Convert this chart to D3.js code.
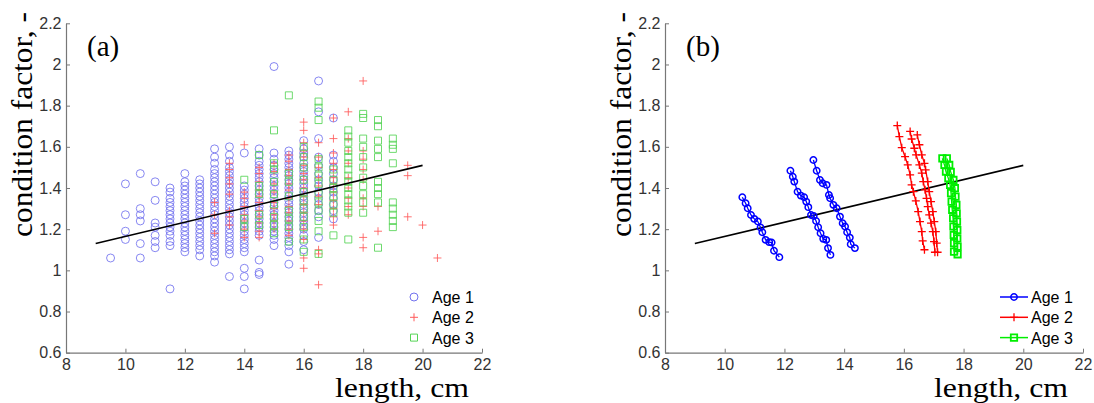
<!DOCTYPE html>
<html><head><meta charset="utf-8">
<script src="https://cdn.jsdelivr.net/npm/d3@7"></script>
<style>body{margin:0;background:#fff}svg{display:block}</style>
</head><body>
<svg id="c" width="1094" height="403"></svg>
<script>
// ---------- data ----------
const xTicks = [8,10,12,14,16,18,20,22];
const yTicks = [0.6,0.8,1,1.2,1.4,1.6,1.8,2,2.2];
const yTickLabels = ["0.6","0.8","1","1.2","1.4","1.6","1.8","2","2.2"];
const seriesNames = ["Age 1","Age 2","Age 3"];
const fitX = [9, 20];
const fitY = [1.13, 1.51];

// panel (a): [length, condition factor values]
const age1Columns = [
  [9.5,[1.06]],
  [10,[1.42,1.27,1.19,1.15]],
  [10.5,[1.47,1.30,1.27,1.24,1.13,1.06]],
  [11,[1.43,1.34,1.23,1.21,1.17,1.14,1.11]],
  [11.5,[1.40,1.38,1.35,1.33,1.31,1.29,1.27,1.25,1.23,1.21,1.19,1.17,1.14,1.12,0.91]],
  [12,[1.47,1.43,1.41,1.39,1.37,1.35,1.33,1.31,1.29,1.27,1.25,1.23,1.21,1.19,1.17,1.15,1.13,1.11,1.09]],
  [12.5,[1.44,1.42,1.40,1.38,1.36,1.34,1.32,1.30,1.28,1.26,1.24,1.22,1.20,1.18,1.16,1.14,1.12,1.10,1.07]],
  [13,[1.59,1.55,1.52,1.49,1.47,1.45,1.43,1.41,1.39,1.37,1.35,1.33,1.31,1.29,1.27,1.25,1.23,1.21,1.19,1.17,1.15,1.13,1.11,1.09,1.07,1.04]],
  [13.5,[1.60,1.56,1.53,1.50,1.48,1.46,1.44,1.42,1.40,1.38,1.36,1.34,1.32,1.30,1.28,1.26,1.24,1.22,1.20,1.18,1.16,1.14,1.12,1.10,1.08,0.97]],
  [14,[1.57,1.41,1.39,1.37,1.35,1.33,1.31,1.29,1.27,1.25,1.23,1.21,1.19,1.17,1.15,1.13,1.11,1.09,1.01,0.97,0.91]],
  [14.5,[1.59,1.56,1.53,1.51,1.49,1.47,1.45,1.43,1.41,1.39,1.37,1.35,1.33,1.31,1.29,1.27,1.25,1.23,1.21,1.19,1.17,1.05,0.99,0.98]],
  [15,[1.99,1.57,1.54,1.51,1.49,1.47,1.45,1.43,1.41,1.39,1.37,1.35,1.33,1.31,1.29,1.27,1.25,1.23,1.21,1.19,1.17,1.15,1.12]],
  [15.5,[1.58,1.56,1.54,1.52,1.50,1.48,1.46,1.44,1.42,1.40,1.38,1.36,1.34,1.32,1.30,1.28,1.26,1.24,1.22,1.20,1.18,1.16,1.14,1.12,1.09,1.03]],
  [16,[1.63,1.59,1.57,1.55,1.52,1.50,1.48,1.46,1.44,1.42,1.40,1.38,1.36,1.34,1.32,1.30,1.28,1.26,1.24,1.22,1.20,1.17,1.14,1.10]],
  [16.5,[1.92,1.77,1.64,1.55,1.51,1.47,1.44,1.41,1.38,1.35,1.32,1.29,1.26,1.16]],
  [17,[1.74,1.56,1.53,1.50,1.47,1.44,1.41,1.38,1.35,1.32,1.29,1.25]]
];
const age2Columns = [
  [13,[1.33,1.27,1.18]],
  [13.5,[1.52,1.49,1.45,1.42,1.37,1.29,1.26,1.22]],
  [14,[1.61,1.38,1.35,1.31,1.27,1.24,1.20,1.16]],
  [14.5,[1.50,1.47,1.43,1.39,1.36,1.33,1.29,1.26,1.23,1.19,1.16]],
  [15,[1.52,1.48,1.42,1.38,1.33,1.30,1.27,1.24,1.20]],
  [15.5,[1.56,1.53,1.49,1.46,1.42,1.39,1.35,1.31,1.28,1.24,1.20,1.17]],
  [16,[1.72,1.68,1.62,1.58,1.55,1.51,1.47,1.44,1.40,1.36,1.32,1.28,1.24,1.20,1.15,1.06,1.01]],
  [16.5,[1.62,1.55,1.50,1.45,1.41,1.36,1.32,1.10,1.08,0.93]],
  [17,[1.74,1.64,1.57,1.52,1.49,1.45,1.42,1.38,1.34,1.30,1.26,1.22]],
  [17.5,[1.77,1.64,1.58,1.52,1.45,1.40,1.35,1.31,1.27]],
  [18,[1.92,1.58,1.54,1.49,1.44,1.35,1.31,1.16,1.11]],
  [18.5,[1.31,1.19]],
  [19.5,[1.51,1.46,1.26]],
  [20,[1.22]],
  [20.5,[1.06]]
];
const age3Columns = [
  [14,[1.44,1.25,1.21]],
  [14.5,[1.56,1.41,1.37,1.27,1.22]],
  [15,[1.68,1.52,1.49,1.43,1.37,1.32,1.26,1.22,1.18]],
  [15.5,[1.85,1.47,1.43,1.36,1.29,1.25,1.21,1.14]],
  [16,[1.60,1.55,1.50,1.44,1.38,1.34,1.30,1.26,1.21,1.15,1.09]],
  [16.5,[1.82,1.79,1.73,1.54,1.50,1.46,1.42,1.37,1.33,1.29,1.24,1.19,1.08]],
  [17,[1.49,1.44,1.40,1.36,1.32,1.28,1.17]],
  [17.5,[1.68,1.65,1.62,1.58,1.55,1.52,1.49,1.46,1.43,1.40,1.37,1.34,1.31,1.28,1.15]],
  [18,[1.76,1.74,1.64,1.60,1.55,1.50,1.45,1.41,1.37,1.33,1.28]],
  [18.5,[1.73,1.70,1.63,1.59,1.55,1.43,1.40,1.37,1.33,1.11]],
  [19,[1.64,1.61,1.59,1.52,1.33,1.30,1.27,1.24,1.21]]
];

// panel (b): trajectories [length, condition factor]
const age1Paths = [
  [[10.59,1.355],[10.70,1.326],[10.77,1.302],[10.88,1.269],[10.99,1.25],[11.11,1.237],[11.20,1.208],[11.26,1.185],[11.37,1.148],[11.49,1.137],[11.57,1.135],[11.65,1.095],[11.83,1.064]],
  [[12.20,1.484],[12.28,1.455],[12.33,1.431],[12.44,1.382],[12.55,1.363],[12.66,1.355],[12.73,1.334],[12.80,1.307],[12.89,1.269],[12.98,1.264],[13.06,1.240],[13.13,1.209],[13.21,1.180],[13.30,1.153],[13.40,1.148],[13.46,1.108],[13.54,1.075]],
  [[12.97,1.536],[13.08,1.484],[13.19,1.439],[13.28,1.423],[13.41,1.415],[13.49,1.366],[13.53,1.350],[13.64,1.318],[13.75,1.302],[13.86,1.261],[13.95,1.229],[14.03,1.213],[14.10,1.185],[14.19,1.159],[14.22,1.127],[14.36,1.108]]
];
const age2Paths = [
  [[15.78,1.703],[15.85,1.650],[15.93,1.596],[16.04,1.552],[16.13,1.512],[16.21,1.464],[16.26,1.415],[16.32,1.382],[16.40,1.337],[16.48,1.285],[16.54,1.237],[16.60,1.188],[16.63,1.143],[16.69,1.100]],
  [[16.21,1.675],[16.26,1.638],[16.35,1.593],[16.41,1.561],[16.52,1.512],[16.60,1.472],[16.65,1.431],[16.71,1.391],[16.76,1.350],[16.80,1.310],[16.85,1.269],[16.91,1.229],[16.97,1.188],[17.01,1.140],[17.04,1.088]],
  [[16.45,1.658],[16.52,1.610],[16.60,1.561],[16.69,1.520],[16.73,1.488],[16.80,1.431],[16.85,1.382],[16.91,1.334],[16.97,1.285],[17.02,1.237],[17.07,1.188],[17.10,1.132],[17.13,1.088]]
];
const age3Paths = [
  [[17.29,1.544],[17.36,1.512],[17.41,1.480],[17.49,1.447],[17.55,1.415],[17.58,1.375],[17.60,1.334],[17.62,1.294],[17.65,1.253],[17.66,1.213],[17.67,1.172],[17.68,1.132],[17.68,1.091]],
  [[17.44,1.544],[17.52,1.512],[17.57,1.478],[17.66,1.439],[17.71,1.399],[17.73,1.358],[17.76,1.318],[17.77,1.277],[17.78,1.237],[17.79,1.196],[17.79,1.155],[17.80,1.115],[17.80,1.078]]
];

// ---------- drawing ----------
const svg = d3.select("#c");
const AX = "#777", TXT = "#333";
const sansF = "'Liberation Sans', Arial, sans-serif";
const serifF = "'Liberation Serif', 'Times New Roman', serif";

const markerPath = {
  circle: r => d3.symbol(d3.symbolCircle, Math.PI*r*r)(),
  plus: s => `M${-s},0H${s}M0,${-s}V${s}`,
  square: s => `M${-s},${-s}H${s}V${s}H${-s}Z`
};

function panel(x0, x1, label) {
  const g = svg.append("g");
  const x = d3.scaleLinear([8,22],[x0,x1]);
  const y = d3.scaleLinear([0.6,2.2],[352.7,23.3]);
  const xa = g.append("g").attr("transform",`translate(0,${y(0.6)})`)
    .call(d3.axisBottom(x).tickValues(xTicks).tickSizeInner(-4).tickSizeOuter(0).tickPadding(5.5));
  const ya = g.append("g").attr("transform",`translate(${x(8)},0)`)
    .call(d3.axisLeft(y).tickValues(yTicks).tickFormat((d,i)=>yTickLabels[i]).tickSizeInner(-4).tickSizeOuter(0).tickPadding(4.5));
  [xa,ya].forEach(a=>{
    a.select(".domain").attr("stroke",AX).attr("stroke-width",1.2);
    a.selectAll(".tick line").attr("stroke",AX);
    a.selectAll("text").attr("fill",TXT).style("font-family",sansF).style("font-size","16px");
  });
  // axis labels
  g.append("text").attr("x", x0+269).attr("y", 397)
    .attr("textLength",134).attr("lengthAdjust","spacingAndGlyphs")
    .style("font-family",serifF).style("font-size","26.5px").attr("fill","#000").text("length, cm");
  g.append("text").attr("transform",`translate(${x0-34},237) rotate(-90)`)
    .attr("textLength",225).attr("lengthAdjust","spacingAndGlyphs")
    .style("font-family",serifF).style("font-size","29px").attr("fill","#000").text("condition factor, -");
  g.append("text").attr("x", x0+21).attr("y", 56)
    .style("font-family",serifF).style("font-size","29px").attr("fill","#000").text(label);
  return {g,x,y};
}

// Panel (a)
const A = panel(66, 482, "(a)");
const scatterStyle = [
  {cols: age1Columns, shape:"circle", size:4, color:"#7272ee"},
  {cols: age2Columns, shape:"plus", size:4, color:"#ff5a5a"},
  {cols: age3Columns, shape:"square", size:3.5, color:"#55d455"}
];
scatterStyle.forEach(s=>{
  const pts = [];
  s.cols.forEach(([len,vals])=>vals.forEach(v=>pts.push([len,v])));
  A.g.append("g").selectAll("path").data(pts).join("path")
    .attr("transform",d=>`translate(${A.x(d[0])},${A.y(d[1])})`)
    .attr("d", markerPath[s.shape](s.size))
    .attr("fill","none").attr("stroke",s.color).attr("stroke-width",1).attr("opacity",0.85);
});
A.g.append("path").attr("d", d3.line()(fitX.map((v,i)=>[A.x(v),A.y(fitY[i])])))
  .attr("stroke","#000").attr("stroke-width",1.6).attr("fill","none");
// legend (a)
scatterStyle.forEach((s,i)=>{
  const yy = 297 + i*20.3;
  A.g.append("path").attr("transform",`translate(414,${yy})`).attr("d",markerPath[s.shape](s.size))
    .attr("fill","none").attr("stroke",s.color).attr("stroke-width",1);
  A.g.append("text").attr("x",432).attr("y",yy+6).style("font-family",sansF).style("font-size","16px")
    .attr("fill","#000").text(seriesNames[i]);
});

// Panel (b)
const B = panel(665, 1083, "(b)");
B.g.append("path").attr("d", d3.line()(fitX.map((v,i)=>[B.x(v),B.y(fitY[i])])))
  .attr("stroke","#000").attr("stroke-width",1.6).attr("fill","none");
const pathStyle = [
  {paths: age1Paths, shape:"circle", size:3.2, color:"#0000ff", mw:1.5},
  {paths: age2Paths, shape:"plus", size:4, color:"#ff0000", mw:1.3},
  {paths: age3Paths, shape:"square", size:3.2, color:"#00ee00", mw:1.8}
];
const ln = d3.line().x(d=>B.x(d[0])).y(d=>B.y(d[1]));
pathStyle.forEach(s=>{
  s.paths.forEach(p=>{
    B.g.append("path").attr("d",ln(p)).attr("fill","none").attr("stroke",s.color).attr("stroke-width",1.3);
    B.g.append("g").selectAll("path").data(p).join("path")
      .attr("transform",d=>`translate(${B.x(d[0])},${B.y(d[1])})`)
      .attr("d",markerPath[s.shape](s.size))
      .attr("fill","none").attr("stroke",s.color).attr("stroke-width",s.mw);
  });
});
// legend (b)
pathStyle.forEach((s,i)=>{
  const yy = 297 + i*20.3;
  B.g.append("line").attr("x1",1000).attr("x2",1028).attr("y1",yy).attr("y2",yy)
    .attr("stroke",s.color).attr("stroke-width",1.5);
  B.g.append("path").attr("transform",`translate(1014,${yy})`).attr("d",markerPath[s.shape](s.size))
    .attr("fill","none").attr("stroke",s.color).attr("stroke-width",s.mw);
  B.g.append("text").attr("x",1031).attr("y",yy+6).style("font-family",sansF).style("font-size","16px")
    .attr("fill","#000").text(seriesNames[i]);
});
</script>
</body></html>
